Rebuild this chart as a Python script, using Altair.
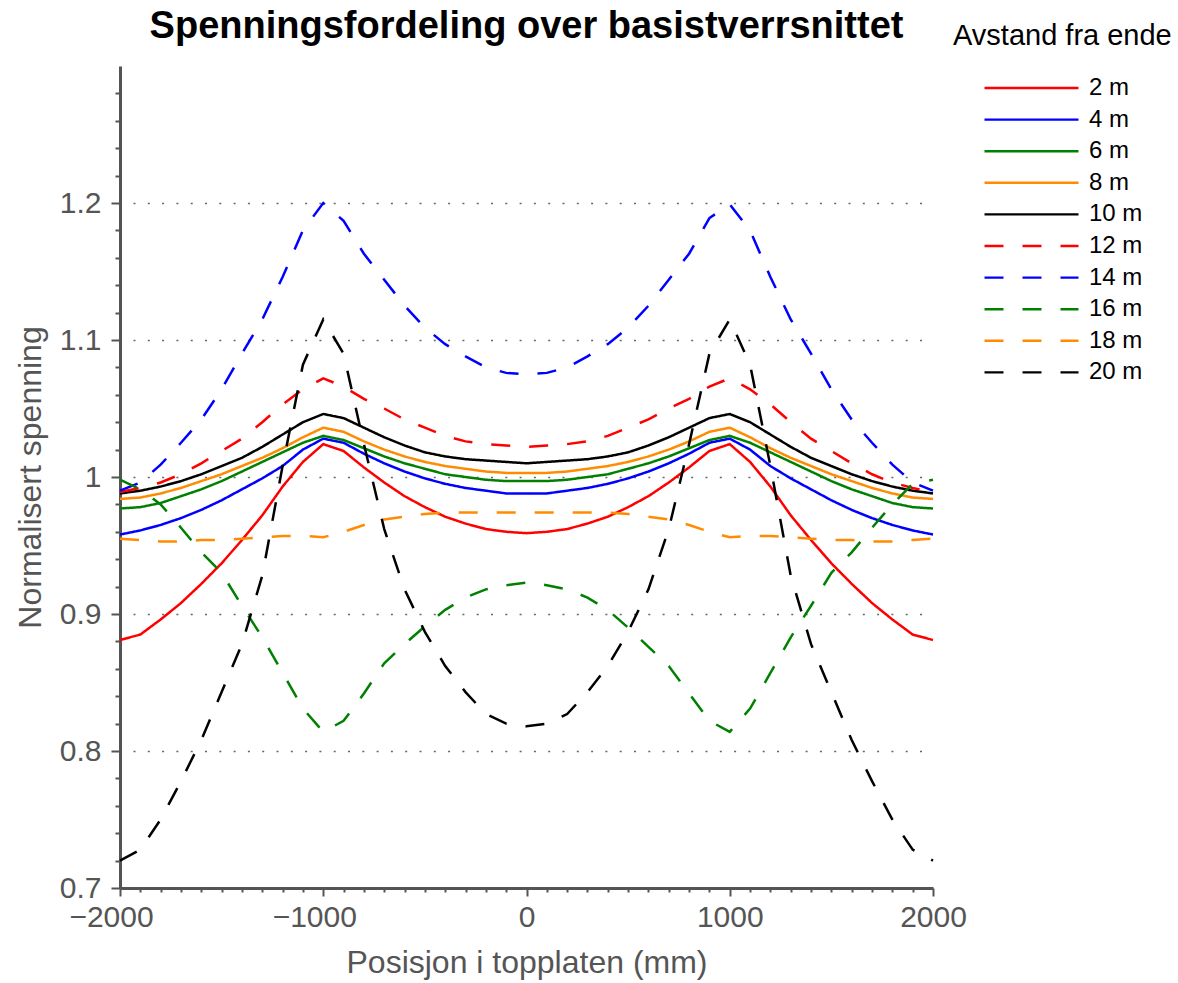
import altair as alt
import pandas as pd

# Position along the top plate (mm)
positions = list(range(-2000, 2001, 100))

# Normalised stress for each distance from the end
spenning_2m = [0.881, 0.885, 0.896, 0.908, 0.922, 0.937, 0.954, 0.972, 0.993, 1.011, 1.024,
               1.019, 1.007, 0.996, 0.986, 0.978, 0.971, 0.966, 0.962, 0.960, 0.959,
               0.960, 0.962, 0.966, 0.971, 0.978, 0.986, 0.996, 1.007, 1.019,
               1.024, 1.011, 0.993, 0.972, 0.954, 0.937, 0.922, 0.908, 0.896, 0.885, 0.881]
spenning_4m = [0.958, 0.961, 0.965, 0.970, 0.976, 0.983, 0.991, 0.999, 1.008, 1.020, 1.028,
               1.025, 1.017, 1.010, 1.004, 0.999, 0.995, 0.992, 0.990, 0.988, 0.988,
               0.988, 0.990, 0.992, 0.995, 0.999, 1.004, 1.010, 1.017, 1.025,
               1.028, 1.020, 1.008, 0.999, 0.991, 0.983, 0.976, 0.970, 0.965, 0.961, 0.958]
spenning_6m = [0.977, 0.978, 0.981, 0.986, 0.991, 0.997, 1.004, 1.011, 1.018, 1.025, 1.030,
               1.027, 1.021, 1.015, 1.010, 1.006, 1.002, 1.000, 0.998, 0.997, 0.997,
               0.997, 0.998, 1.000, 1.002, 1.006, 1.010, 1.015, 1.021, 1.027,
               1.030, 1.025, 1.018, 1.011, 1.004, 0.997, 0.991, 0.986, 0.981, 0.978, 0.977]
spenning_8m = [0.984, 0.985, 0.988, 0.992, 0.997, 1.002, 1.008, 1.014, 1.021, 1.029, 1.036,
               1.033, 1.026, 1.020, 1.015, 1.011, 1.008, 1.006, 1.004, 1.003, 1.003,
               1.003, 1.004, 1.006, 1.008, 1.011, 1.015, 1.020, 1.026, 1.033,
               1.036, 1.029, 1.021, 1.014, 1.008, 1.002, 0.997, 0.992, 0.988, 0.985, 0.984]
spenning_10m = [0.988, 0.990, 0.993, 0.997, 1.002, 1.008, 1.014, 1.022, 1.031, 1.040, 1.046,
                1.043, 1.036, 1.029, 1.023, 1.018, 1.015, 1.013, 1.012, 1.011, 1.010,
                1.011, 1.012, 1.013, 1.015, 1.018, 1.023, 1.029, 1.036, 1.043,
                1.046, 1.040, 1.031, 1.022, 1.014, 1.008, 1.002, 0.997, 0.993, 0.990, 0.988]
spenning_12m = [0.989, 0.992, 0.996, 1.002, 1.010, 1.019, 1.028, 1.040, 1.053, 1.064, 1.072,
                1.066, 1.057, 1.050, 1.042, 1.036, 1.030, 1.026, 1.024, 1.023, 1.022,
                1.023, 1.024, 1.026, 1.030, 1.036, 1.042, 1.050, 1.057, 1.066,
                1.072, 1.064, 1.053, 1.040, 1.028, 1.019, 1.010, 1.002, 0.996, 0.992, 0.989]
spenning_14m = [0.990, 0.996, 1.009, 1.025, 1.042, 1.064, 1.090, 1.115, 1.146, 1.180, 1.200,
                1.187, 1.163, 1.144, 1.125, 1.109, 1.097, 1.088, 1.080, 1.076, 1.075,
                1.076, 1.080, 1.088, 1.097, 1.109, 1.125, 1.144, 1.163, 1.189,
                1.199, 1.180, 1.146, 1.115, 1.090, 1.064, 1.042, 1.025, 1.009, 0.996, 0.990]
spenning_16m = [0.998, 0.991, 0.980, 0.963, 0.945, 0.930, 0.906, 0.883, 0.857, 0.831, 0.814,
                0.822, 0.842, 0.864, 0.878, 0.891, 0.903, 0.912, 0.918, 0.921, 0.923,
                0.921, 0.918, 0.912, 0.903, 0.890, 0.876, 0.862, 0.842, 0.822,
                0.814, 0.831, 0.857, 0.883, 0.906, 0.930, 0.945, 0.963, 0.980, 0.995, 0.998]
spenning_18m = [0.955, 0.954, 0.953, 0.953, 0.954, 0.954, 0.955, 0.956, 0.957, 0.957, 0.956,
                0.960, 0.965, 0.969, 0.971, 0.973, 0.974, 0.974, 0.974, 0.974, 0.974,
                0.974, 0.974, 0.974, 0.974, 0.973, 0.971, 0.969, 0.965, 0.960,
                0.956, 0.957, 0.957, 0.956, 0.955, 0.954, 0.954, 0.953, 0.953, 0.954, 0.955]
spenning_20m = [0.720, 0.728, 0.750, 0.778, 0.808, 0.843, 0.878, 0.928, 1.008, 1.082, 1.115,
                1.090, 1.024, 0.962, 0.918, 0.887, 0.862, 0.843, 0.827, 0.820, 0.818,
                0.820, 0.827, 0.843, 0.862, 0.887, 0.918, 0.962, 1.024, 1.090,
                1.115, 1.082, 1.008, 0.928, 0.878, 0.843, 0.808, 0.778, 0.750, 0.728, 0.720]

series_labels = ["2 m", "4 m", "6 m", "8 m", "10 m", "12 m", "14 m", "16 m", "18 m", "20 m"]
series_values = [spenning_2m, spenning_4m, spenning_6m, spenning_8m, spenning_10m,
                 spenning_12m, spenning_14m, spenning_16m, spenning_18m, spenning_20m]

# Line styles: five solid lines, then the same colours dashed
line_colors = ["#ff0000", "#0000ff", "#008000", "#ff8c00", "#000000"] * 2
line_dashes = [[1, 0]] * 5 + [[19, 19]] * 5

# Axis tick positions (major + minor)
x_ticks = list(range(-2000, 2001, 100))
y_ticks = [round(0.70 + 0.02 * i, 2) for i in range(30)]

rows = []
for label, values in zip(series_labels, series_values):
    for pos, val in zip(positions, values):
        rows.append({"posisjon": pos, "spenning": val, "avstand": label})
df = pd.DataFrame(rows)

FONT = "Liberation Sans"
AXIS_GRAY = "#545454"
TEXT_GRAY = "#555555"

x_major = "datum.value % 1000 == 0"
y_major = "abs(datum.value * 10 - round(datum.value * 10)) < 0.001"

legend = alt.Legend(
    title="Avstand fra ende",
    orient="none",
    legendX=833,
    legendY=-44,
    padding=0,
    titleFont=FONT,
    titleFontSize=29,
    titleFontWeight="normal",
    titleColor="black",
    titleLimit=400,
    titlePadding=25,
    labelFont=FONT,
    labelFontSize=24,
    labelColor="black",
    labelOffset=9,
    symbolType="stroke",
    symbolSize=8836,
    symbolStrokeWidth=2.4,
    symbolOffset=30,
    clipHeight=24,
    rowPadding=7.6,
)

chart = (
    alt.Chart(df)
    .mark_line(strokeWidth=2.5)
    .encode(
        x=alt.X(
            "posisjon:Q",
            scale=alt.Scale(domain=[-2000, 2000], nice=False, zero=False),
            axis=alt.Axis(
                title="Posisjon i topplaten (mm)",
                values=x_ticks,
                labelExpr=f"{x_major} ? format(datum.value, 'd') : ''",
                tickSize={"condition": {"test": x_major, "value": 8}, "value": 4},
                labelOffset={"condition": {"test": "datum.value < 0", "value": -9}, "value": 0},
                tickWidth=2,
                tickColor=AXIS_GRAY,
                domainWidth=3,
                domainColor=AXIS_GRAY,
                grid=False,
                labelFont=FONT,
                labelFontSize=30,
                labelColor=TEXT_GRAY,
                labelPadding=6,
                labelFlush=False,
                labelOverlap=False,
                titleFont=FONT,
                titleFontSize=32,
                titleFontWeight="normal",
                titleColor=TEXT_GRAY,
                titlePadding=15,
            ),
        ),
        y=alt.Y(
            "spenning:Q",
            scale=alt.Scale(domain=[0.7, 1.3], nice=False, zero=False),
            axis=alt.Axis(
                title="Normalisert spenning",
                values=y_ticks,
                labelExpr=f"{y_major} ? format(datum.value, '.1~f') : ''",
                tickSize={"condition": {"test": y_major, "value": 9}, "value": 5},
                tickWidth=2,
                tickColor=AXIS_GRAY,
                domainWidth=3,
                domainColor=AXIS_GRAY,
                grid=True,
                gridOpacity={"condition": {"test": f"{y_major} && datum.value > 0.75", "value": 1}, "value": 0},
                gridDash=[2, 12.3],
                gridDashOffset=1.3,
                gridColor="#666666",
                gridWidth=1.5,
                labelFont=FONT,
                labelFontSize=30,
                labelColor=TEXT_GRAY,
                labelPadding=10,
                labelFlush=False,
                labelOverlap=False,
                titleFont=FONT,
                titleFontSize=32,
                titleFontWeight="normal",
                titleColor=TEXT_GRAY,
                titlePadding=12,
            ),
        ),
        color=alt.Color(
            "avstand:N",
            scale=alt.Scale(domain=series_labels, range=line_colors),
            sort=series_labels,
            legend=legend,
        ),
        strokeDash=alt.StrokeDash(
            "avstand:N",
            scale=alt.Scale(domain=series_labels, range=line_dashes),
            sort=series_labels,
            legend=legend,
        ),
    )
    .properties(
        width=813,
        height=822,
        background="white",
        autosize=alt.AutoSizeParams(type="none"),
        padding={"left": 120, "top": 66, "right": 245, "bottom": 95},
        title=alt.TitleParams(
            "Spenningsfordeling over basistverrsnittet",
            font=FONT,
            fontSize=38,
            fontWeight="bold",
            color="black",
            anchor="middle",
            frame="group",
            offset=-24,
        ),
    )
    .configure_view(stroke="transparent")
)

chart.save("out.html", embed_options={"renderer": "svg", "actions": False})
